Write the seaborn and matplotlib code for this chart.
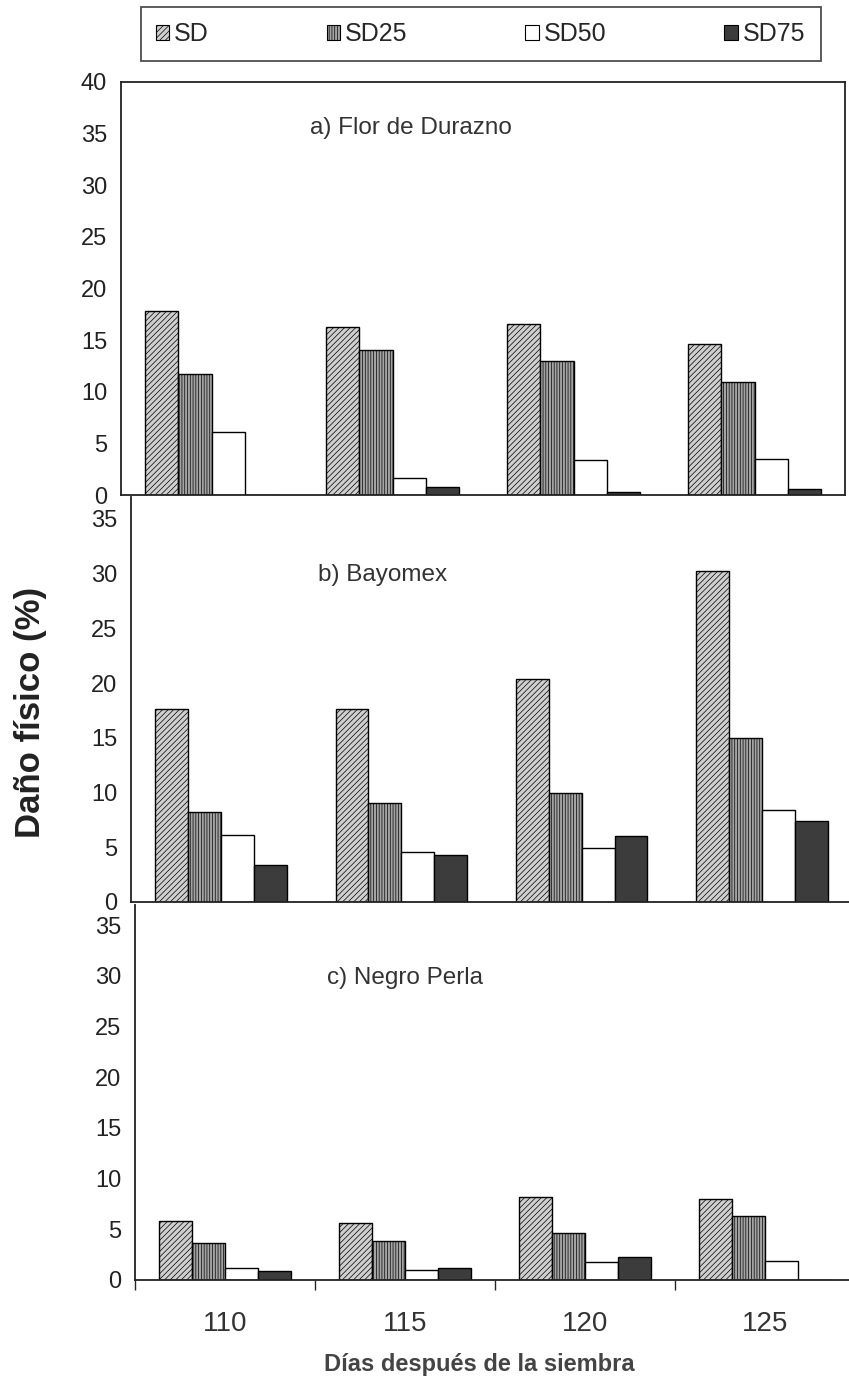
import numpy as np
import pandas as pd
import seaborn as sns
import matplotlib.pyplot as plt
from matplotlib.patches import Patch

## Data ##
dias = ["110", "115", "120", "125"]
tratamientos = ["SD", "SD25", "SD50", "SD75"]

# a) Flor de Durazno
flor_sd = [17.8, 16.3, 16.6, 14.6]
flor_sd25 = [11.7, 14.0, 13.0, 10.9]
flor_sd50 = [6.1, 1.6, 3.4, 3.5]
flor_sd75 = [0.0, 0.8, 0.3, 0.6]

# b) Bayomex
bayo_sd = [17.6, 17.6, 20.4, 30.2]
bayo_sd25 = [8.2, 9.0, 10.0, 15.0]
bayo_sd50 = [6.1, 4.6, 4.9, 8.4]
bayo_sd75 = [3.4, 4.3, 6.0, 7.4]

# c) Negro Perla
negro_sd = [5.8, 5.6, 8.2, 8.0]
negro_sd25 = [3.7, 3.8, 4.6, 6.3]
negro_sd50 = [1.2, 1.0, 1.8, 1.9]
negro_sd75 = [0.9, 1.2, 2.3, 0.0]

titulos = ["a) Flor de Durazno", "b) Bayomex", "c) Negro Perla"]

def make_df(sd, sd25, sd50, sd75):
    rows = []
    for t, vals in zip(tratamientos, [sd, sd25, sd50, sd75]):
        for d, v in zip(dias, vals):
            rows.append({"dia": d, "trat": t, "dano": v})
    return pd.DataFrame(rows)

dfs = [make_df(flor_sd, flor_sd25, flor_sd50, flor_sd75),
       make_df(bayo_sd, bayo_sd25, bayo_sd50, bayo_sd75),
       make_df(negro_sd, negro_sd25, negro_sd50, negro_sd75)]

## Style ##
sns.set_style("white")
plt.rcParams['font.family'] = ['Liberation Sans', 'DejaVu Sans']
plt.rcParams['hatch.linewidth'] = 0.5

estilos = {
    "SD": dict(facecolor="#cfcfcf", hatch="//////"),
    "SD25": dict(facecolor="#a4a4a4", hatch="||||||"),
    "SD50": dict(facecolor="white", hatch=None),
    "SD75": dict(facecolor="#3c3c3c", hatch=None),
}

fig = plt.figure(figsize=(8.49, 13.88), dpi=100)

# axes positions in figure fractions (left, bottom, width, height)
posiciones = [
    (121 / 849, 1 - 495 / 1388, 724 / 849, 413 / 1388),
    (131 / 849, 1 - 902 / 1388, 721 / 849, 405 / 1388),
    (135 / 849, 1 - 1280 / 1388, 720 / 849, 375 / 1388),
]
ylims = [40, 37, 37]
ytop = [40, 35, 35]
titulo_pos = [(0.261, 0.889), (0.259, 0.807), (0.267, 0.805)]

axes = []
for i, df in enumerate(dfs):
    ax = fig.add_axes(posiciones[i])
    sns.barplot(data=df, x="dia", y="dano", hue="trat", order=dias,
                hue_order=tratamientos, width=0.73, gap=0, ax=ax,
                legend=False, errorbar=None)
    for cont, t in zip(ax.containers, tratamientos):
        for bar in cont:
            bar.set_facecolor(estilos[t]["facecolor"])
            bar.set_edgecolor("black")
            bar.set_linewidth(1.0)
            if estilos[t]["hatch"]:
                bar.set_hatch(estilos[t]["hatch"])
    ax.set_xlim(-0.5, 3.5)
    ax.set_ylim(0, ylims[i])
    ax.set_yticks(np.arange(0, ytop[i] + 1, 5))
    ax.tick_params(axis="y", direction="out", length=6, width=1, labelsize=17,
                   pad=4, labelcolor="#222222")
    ax.set_xlabel("")
    ax.set_ylabel("")
    for s in ax.spines.values():
        s.set_color("#222222")
        s.set_linewidth(1.3)
    if i > 0:
        ax.spines["top"].set_visible(False)
    ax.text(titulo_pos[i][0], titulo_pos[i][1], titulos[i], transform=ax.transAxes,
            fontsize=17.5, va="center", ha="left", color="#333333")
    axes.append(ax)

# x ticks only on bottom panel: marks between groups, labels at centers
for ax in axes[:2]:
    ax.set_xticks([])
axc = axes[2]
axc.set_xticks([-0.5, 0.5, 1.5, 2.5])
axc.set_xticklabels([])
axc.tick_params(axis="x", which="major", direction="out", length=7, width=1, bottom=True)
axc.set_xticks(range(len(dias)), minor=True)
axc.set_xticklabels(dias, minor=True)
axc.tick_params(axis="x", which="minor", length=0, labelsize=20, pad=22,
                labelcolor="#333333")

fig.text(0.036, 0.487, "Daño físico (%)", rotation=90, ha="center", va="center",
         fontsize=25, fontweight="bold", color="#222222")
fig.text(0.565, 0.0166, "Días después de la siembra", ha="center", va="center",
         fontsize=17, fontweight="bold", color="#444444")

## Legend ##
handles = [Patch(facecolor=estilos[t]["facecolor"], edgecolor="black",
                 hatch=estilos[t]["hatch"], linewidth=0.8) for t in tratamientos]
leg = fig.legend(handles, tratamientos, loc="center", ncol=4, mode="expand",
                 bbox_to_anchor=(128 / 849, 1 - 66 / 1388, 705 / 849, 64 / 1388),
                 fontsize=18, frameon=True, fancybox=False, handlelength=0.55,
                 handleheight=0.55, handletextpad=0.2, borderpad=0.6)
leg.get_frame().set_edgecolor("#222222")
leg.get_frame().set_linewidth(1.3)

plt.savefig("out.png", dpi=100)
